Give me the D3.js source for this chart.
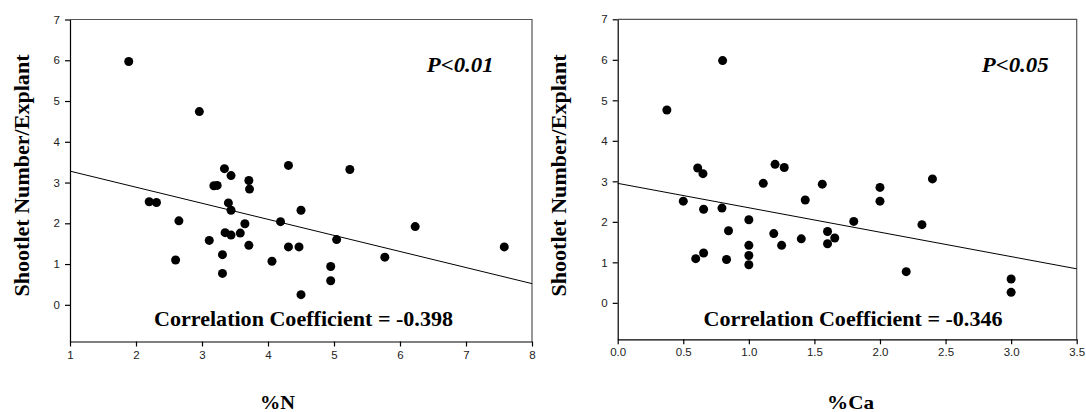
<!DOCTYPE html>
<html>
<head>
<meta charset="utf-8">
<script src="https://cdn.jsdelivr.net/npm/d3@7"></script>
<style>
  body { margin: 0; background: #fff; }
  svg { display: block; }
</style>
</head>
<body>
<div id="chart"></div>
<script>
// datos: %N contra numero de brotes
var nitrogen = [1.89, 2.96, 3.34, 3.44, 3.18, 3.23, 3.71, 3.72, 2.20, 2.31, 3.40, 3.44,
  2.65, 3.65, 4.19, 3.35, 3.44, 3.58, 3.11, 3.71, 3.31, 2.60, 4.06, 3.31,
  4.31, 5.24, 4.50, 6.23, 5.04, 4.31, 4.47, 7.58, 5.77, 4.95, 4.95, 4.50];
var shootsN = [5.97, 4.74, 3.34, 3.17, 2.92, 2.93, 3.05, 2.84, 2.53, 2.51, 2.50, 2.32,
  2.06, 1.99, 2.04, 1.77, 1.71, 1.76, 1.58, 1.46, 1.23, 1.10, 1.07, 0.77,
  3.42, 3.32, 2.32, 1.92, 1.60, 1.42, 1.42, 1.42, 1.17, 0.94, 0.59, 0.25];

// %Ca contra numero de brotes
var calcium = [0.80, 0.375, 0.61, 0.65, 1.20, 1.27, 1.11, 0.50, 1.43, 0.655, 0.795, 1.56,
  2.00, 2.00, 2.40, 1.00, 0.845, 1.19, 1.40, 1.00, 1.25, 1.00, 1.00, 0.655,
  0.595, 0.83, 1.80, 2.32, 1.60, 1.655, 1.60, 2.20, 3.00, 3.00];
var shootsCa = [5.98, 4.76, 3.33, 3.19, 3.42, 3.34, 2.95, 2.51, 2.54, 2.31, 2.34, 2.93,
  2.85, 2.51, 3.06, 2.05, 1.78, 1.71, 1.58, 1.42, 1.42, 1.17, 0.94, 1.23,
  1.09, 1.07, 2.01, 1.93, 1.76, 1.60, 1.46, 0.77, 0.59, 0.26];

// rectas de regresion (extremos)
var fitN = [[1, 3.28], [8, 0.52]];
var fitCa = [[0, 2.95], [3.5, 0.84]];

var yTicks = [0, 1, 2, 3, 4, 5, 6, 7];
var xTicksN = [1, 2, 3, 4, 5, 6, 7, 8];
var xTicksCa = [0, 0.5, 1, 1.5, 2, 2.5, 3, 3.5];

var yLabel = "Shootlet Number/Explant";

var svg = d3.select("#chart")
  .append("svg")
    .attr("width", 1086)
    .attr("height", 412);

var serif = "'Liberation Serif', 'Times New Roman', serif";

var panels = [
  { left: 70, top: 19.5, right: 532, bottom: 341.5, xDomain: [1, 8], xTicks: xTicksN,
    fmt: d3.format("d"), xs: nitrogen, ys: shootsN, fit: fitN,
    p: "P<0.01", pX: 426.7, corr: "Correlation Coefficient = -0.398", corrX: 154,
    xLabel: "%N", xLabelX: 260, xLabelW: 35, yLabelX: 29 },
  { left: 617.7, top: 19.3, right: 1076.7, bottom: 339.3, xDomain: [0, 3.5], xTicks: xTicksCa,
    fmt: d3.format(".1f"), xs: calcium, ys: shootsCa, fit: fitCa,
    p: "P<0.05", pX: 981.7, corr: "Correlation Coefficient = -0.346", corrX: 703.5,
    xLabel: "%Ca", xLabelX: 827, xLabelW: 47, yLabelX: 566 }
];

panels.forEach(function(pn) {
  var x = d3.scaleLinear().domain(pn.xDomain).range([pn.left, pn.right]);
  var y = d3.scaleLinear().domain([-0.9, 7]).range([pn.bottom, pn.top]);

  // marco superior y derecho
  svg.append("path")
    .attr("d", "M" + pn.left + "," + pn.top + "H" + pn.right + "V" + pn.bottom)
    .attr("fill", "none")
    .attr("stroke", "#555")
    .attr("stroke-width", 1.2);

  var gx = svg.append("g")
    .attr("transform", "translate(0," + pn.bottom + ")")
    .call(d3.axisBottom(x).tickValues(pn.xTicks).tickFormat(pn.fmt).tickSize(5).tickPadding(4).tickSizeOuter(0));
  var gy = svg.append("g")
    .attr("transform", "translate(" + pn.left + ",0)")
    .call(d3.axisLeft(y).tickValues(yTicks).tickSize(5).tickPadding(5).tickSizeOuter(0));

  [gx, gy].forEach(function(g) {
    g.selectAll("path, line").attr("stroke", "#000").attr("stroke-width", 1.2);
    g.selectAll("text")
      .style("font-family", "'Liberation Sans', Arial, sans-serif")
      .style("font-size", "11.5px")
      .attr("fill", "#222");
  });

  // recta de regresion
  svg.append("line")
    .attr("x1", x(pn.fit[0][0])).attr("y1", y(pn.fit[0][1]))
    .attr("x2", x(pn.fit[1][0])).attr("y2", y(pn.fit[1][1]))
    .attr("stroke", "#000")
    .attr("stroke-width", 1);

  svg.append("g")
    .selectAll("circle")
    .data(d3.range(pn.xs.length))
    .enter()
    .append("circle")
      .attr("cx", function(i) { return x(pn.xs[i]); })
      .attr("cy", function(i) { return y(pn.ys[i]); })
      .attr("r", 4.5)
      .attr("fill", "#000");

  svg.append("text")
    .attr("x", pn.pX).attr("y", 71.7)
    .attr("textLength", 67)
    .attr("lengthAdjust", "spacingAndGlyphs")
    .style("font-family", serif)
    .style("font-weight", "bold")
    .style("font-style", "italic")
    .style("font-size", "22px")
    .text(pn.p);

  svg.append("text")
    .attr("x", pn.corrX).attr("y", 326)
    .attr("textLength", 299)
    .attr("lengthAdjust", "spacingAndGlyphs")
    .style("font-family", serif)
    .style("font-weight", "bold")
    .style("font-size", "22px")
    .text(pn.corr);

  svg.append("text")
    .attr("x", pn.xLabelX).attr("y", 409)
    .attr("textLength", pn.xLabelW)
    .attr("lengthAdjust", "spacingAndGlyphs")
    .style("font-family", serif)
    .style("font-weight", "bold")
    .style("font-size", "19px")
    .text(pn.xLabel);

  svg.append("text")
    .attr("transform", "translate(" + pn.yLabelX + "," + 296.5 + ") rotate(-90)")
    .attr("textLength", 242)
    .attr("lengthAdjust", "spacingAndGlyphs")
    .style("font-family", serif)
    .style("font-weight", "bold")
    .style("font-size", "22px")
    .text(yLabel);
});
</script>
</body>
</html>
